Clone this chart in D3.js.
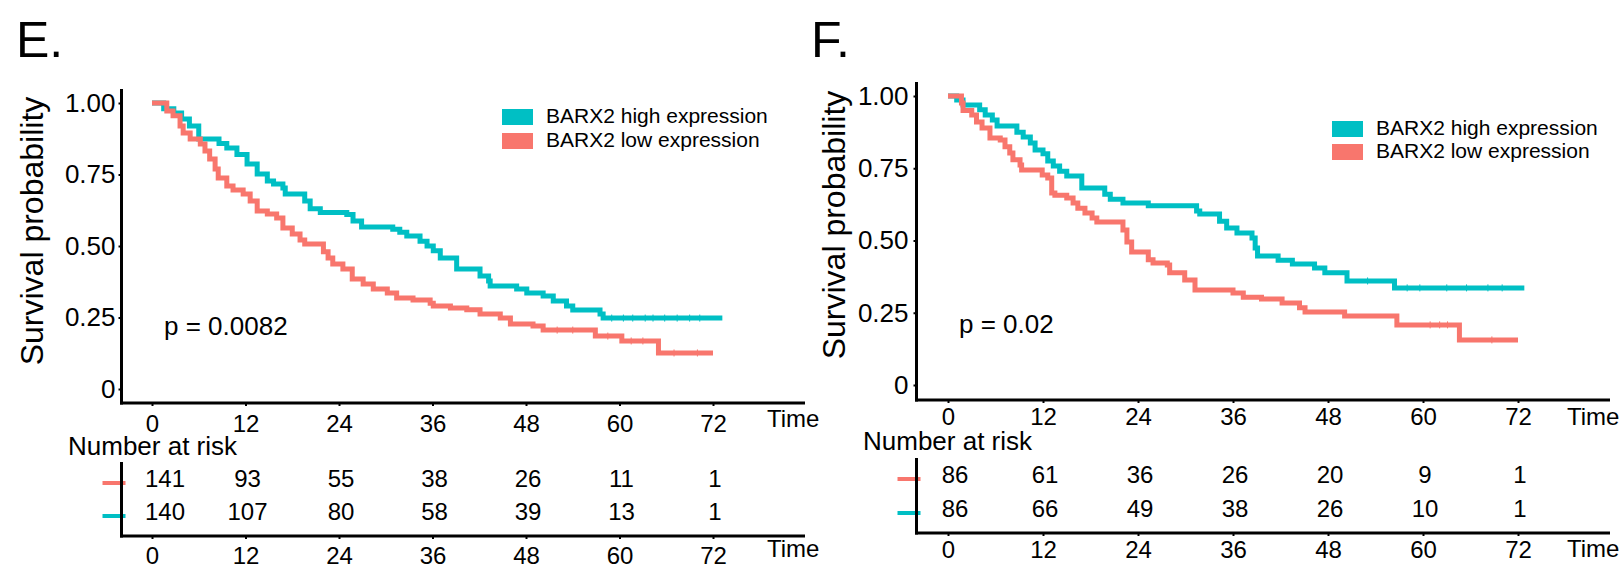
<!DOCTYPE html>
<html>
<head>
<meta charset="utf-8">
<script src="https://cdn.jsdelivr.net/npm/d3@7"></script>
<style>
  body { margin: 0; background: #fff; }
  svg { display: block; }
</style>
</head>
<body>
<svg id="chart" width="1621" height="566"></svg>
<script>
const FONT = "'Liberation Sans', Arial, Helvetica, sans-serif";

const timeTicks = [0, 12, 24, 36, 48, 60, 72];
const survTicks = [0, 0.25, 0.5, 0.75, 1];
const seriesNames = ["BARX2 high expression", "BARX2 low expression"];
const seriesColors = ["#00BFC4", "#F8766D"];
const pValues = ["p = 0.0082", "p = 0.02"];

// panel E, high expression (step times in months, survival after each step)
const eHighTime = [0, 1.5, 2.8, 3.8, 4.8, 6.0, 8.6, 9.6, 10.9, 12.2, 13.5, 14.8, 15.6, 16.8, 17.1, 19.6, 20.3, 21.6, 25.0, 25.8, 26.9, 30.9, 31.8, 32.7, 34.4, 35.3, 36.1, 37.0, 39.1, 42.1, 43.2, 43.4, 46.8, 48.1, 50.2, 51.5, 53.2, 54.0, 57.5, 57.9];
const eHighSurv = [1, 0.98, 0.965, 0.944, 0.92, 0.874, 0.858, 0.843, 0.82, 0.787, 0.752, 0.727, 0.717, 0.703, 0.682, 0.657, 0.63, 0.617, 0.61, 0.587, 0.566, 0.559, 0.548, 0.535, 0.517, 0.5, 0.483, 0.458, 0.42, 0.395, 0.378, 0.36, 0.35, 0.336, 0.325, 0.308, 0.29, 0.276, 0.262, 0.248];
const eHighEnd = 73.2;
const eHighCensor = [59, 60.5, 61.7, 63.3, 64.3, 65.8, 67.4, 69, 70.3];

// panel E, low expression
const eLowTime = [0, 1.9, 2.7, 3.6, 4.0, 4.9, 6.2, 6.8, 7.4, 8.1, 8.5, 9.6, 10.4, 11.7, 12.6, 13.5, 14.8, 16.0, 16.8, 18.0, 19.0, 19.6, 22.0, 22.6, 23.2, 24.5, 25.7, 27.1, 28.4, 30.2, 31.4, 33.5, 35.7, 36.1, 38.3, 40.4, 42.1, 44.7, 46.0, 48.9, 50.2, 56.9, 60.3, 65.0];
const eLowSurv = [1, 0.972, 0.955, 0.92, 0.895, 0.874, 0.857, 0.832, 0.804, 0.769, 0.738, 0.71, 0.696, 0.682, 0.657, 0.622, 0.612, 0.598, 0.563, 0.542, 0.521, 0.507, 0.48, 0.458, 0.437, 0.42, 0.385, 0.367, 0.35, 0.336, 0.318, 0.311, 0.3, 0.29, 0.283, 0.277, 0.262, 0.248, 0.227, 0.22, 0.206, 0.185, 0.168, 0.126];
const eLowEnd = 72;
const eLowCensor = [52, 54, 58.5, 61.5, 63, 67, 70];

// panel F, high expression
const fHighTime = [0, 1.1, 1.9, 4.0, 4.7, 5.6, 6.2, 8.7, 9.5, 10.4, 11.0, 12.0, 12.6, 13.3, 14.1, 15.0, 16.9, 19.8, 20.5, 22.1, 25.3, 31.4, 31.8, 34.3, 35.2, 36.5, 38.4, 38.8, 39.1, 41.7, 43.5, 46.3, 47.6, 50.4, 56.4];
const fHighSurv = [1, 0.986, 0.969, 0.952, 0.934, 0.917, 0.896, 0.875, 0.858, 0.837, 0.813, 0.8, 0.775, 0.758, 0.74, 0.723, 0.682, 0.66, 0.643, 0.63, 0.62, 0.602, 0.592, 0.567, 0.543, 0.526, 0.509, 0.474, 0.446, 0.432, 0.419, 0.405, 0.388, 0.36, 0.336];
const fHighEnd = 72.8;
const fHighCensor = [53, 58, 59.6, 63, 65.5, 68.2, 70];

// panel F, low expression
const fLowTime = [0, 1.7, 1.9, 3.0, 3.6, 4.3, 5.3, 6.6, 7.2, 7.8, 8.2, 9.1, 9.3, 11.9, 12.6, 13.1, 13.5, 15.0, 15.8, 16.4, 17.3, 18.2, 18.8, 22.1, 22.6, 23.2, 25.3, 25.9, 27.7, 28.0, 29.9, 31.2, 36.0, 37.3, 39.6, 42.2, 44.4, 45.1, 50.1, 56.7, 64.6];
const fLowSurv = [1, 0.976, 0.95, 0.934, 0.91, 0.889, 0.855, 0.848, 0.824, 0.803, 0.779, 0.761, 0.744, 0.727, 0.716, 0.664, 0.657, 0.647, 0.63, 0.612, 0.595, 0.578, 0.564, 0.536, 0.495, 0.46, 0.433, 0.422, 0.415, 0.388, 0.363, 0.329, 0.318, 0.304, 0.298, 0.284, 0.267, 0.253, 0.239, 0.208, 0.156];
const fLowEnd = 72;
const fLowCensor = [60.9, 62.1, 63.1, 68.7];

// numbers at risk (low row first, as in the table)
const eRiskLow = [141, 93, 55, 38, 26, 11, 1];
const eRiskHigh = [140, 107, 80, 58, 39, 13, 1];
const fRiskLow = [86, 61, 36, 26, 20, 9, 1];
const fRiskHigh = [86, 66, 49, 38, 26, 10, 1];

const svg = d3.select("#chart").attr("font-family", FONT);
svg.append("rect").attr("width", 1621).attr("height", 566).attr("fill", "#fff");

function stepAt(times, surv, t) {
  let s = surv[0];
  for (let i = 0; i < times.length; i++) {
    if (times[i] <= t) s = surv[i];
  }
  return s;
}

function drawPanel(L, D) {
  const x = d3.scaleLinear().domain([0, 72]).range([L.x0, L.x72]);
  const y = d3.scaleLinear().domain([0, 1]).range([L.y0, L.y1]);
  const g = svg.append("g");

  g.append("text").attr("x", L.letterX).attr("y", 57)
    .attr("font-size", 50).text(L.letter);

  // y title
  g.append("text")
    .attr("transform", `translate(${L.titleX},${L.titleY}) rotate(-90)`)
    .attr("text-anchor", "middle").attr("font-size", 32)
    .text("Survival probability");

  // y axis
  const gy = g.append("g").attr("transform", `translate(${L.axisX},0)`)
    .call(d3.axisLeft(y).tickValues(survTicks).tickSize(3).tickPadding(L.yPad)
      .tickFormat(d => d === 0 ? "0" : d.toFixed(2)));
  gy.select(".domain").remove();
  gy.attr("font-family", FONT).attr("font-size", 26);
  gy.selectAll("line").attr("stroke-width", 2);
  g.append("line").attr("x1", L.axisX).attr("x2", L.axisX)
    .attr("y1", L.axisTop).attr("y2", L.axisY + 1.5)
    .attr("stroke", "#000").attr("stroke-width", 3);

  // x axis
  const gx = g.append("g").attr("transform", `translate(0,${L.axisY})`)
    .call(d3.axisBottom(x).tickValues(timeTicks).tickSize(3).tickPadding(L.xPad));
  gx.select(".domain").remove();
  gx.attr("font-family", FONT).attr("font-size", 24);
  gx.selectAll("line").attr("stroke-width", 2);
  g.append("line").attr("x1", L.axisX - 1.5).attr("x2", L.axisRight)
    .attr("y1", L.axisY).attr("y2", L.axisY)
    .attr("stroke", "#000").attr("stroke-width", 3);
  g.append("text").attr("x", L.timeX).attr("y", L.timeY)
    .attr("font-size", 24).text("Time");

  // curves
  const line = d3.line().x(d => x(d[0])).y(d => y(d[1])).curve(d3.curveStepAfter);
  D.series.forEach((s, i) => {
    const pts = s.time.map((t, k) => [t, s.surv[k]]);
    pts.push([s.end, s.surv[s.surv.length - 1]]);
    g.append("path").datum(pts)
      .attr("d", line).attr("fill", "none")
      .attr("stroke", seriesColors[s.colorIdx]).attr("stroke-width", 5);
    g.selectAll(null).data(s.censor).enter().append("line")
      .attr("x1", d => x(d)).attr("x2", d => x(d))
      .attr("y1", d => y(stepAt(s.time, s.surv, d)) - 3.5)
      .attr("y2", d => y(stepAt(s.time, s.surv, d)) + 3.5)
      .attr("stroke", seriesColors[s.colorIdx]).attr("stroke-width", 1);
  });

  // p value
  g.append("text").attr("x", L.pX).attr("y", L.pY)
    .attr("font-size", 26).text(D.p);

  // legend
  seriesNames.forEach((name, i) => {
    g.append("rect").attr("x", L.legX).attr("y", L.legY + i * L.legStep)
      .attr("width", 31).attr("height", 16).attr("fill", seriesColors[i]);
    g.append("text").attr("x", L.legX + 44).attr("y", L.legY + i * L.legStep + 14)
      .attr("font-size", 21).text(name);
  });

  // number at risk table
  g.append("text").attr("x", L.nrX).attr("y", L.nrY)
    .attr("font-size", 26).text("Number at risk");
  const rows = [
    { vals: D.riskLow, color: seriesColors[1] },
    { vals: D.riskHigh, color: seriesColors[0] }
  ];
  rows.forEach((r, i) => {
    const by = L.rowY[i];
    g.append("line").attr("x1", L.axisX - 19).attr("x2", L.axisX + 4)
      .attr("y1", by - 4).attr("y2", by - 4)
      .attr("stroke", r.color).attr("stroke-width", 4);
    g.selectAll(null).data(r.vals).enter().append("text")
      .attr("x", (d, k) => x(timeTicks[k]) + (k === 0 ? L.firstShift : 2))
      .attr("y", by).attr("text-anchor", "middle")
      .attr("font-size", 24).text(d => d);
  });
  g.append("line").attr("x1", L.axisX).attr("x2", L.axisX)
    .attr("y1", L.tabTop).attr("y2", L.tabY + 1.5)
    .attr("stroke", "#000").attr("stroke-width", 3);
  const gx2 = g.append("g").attr("transform", `translate(0,${L.tabY})`)
    .call(d3.axisBottom(x).tickValues(timeTicks).tickSize(3).tickPadding(L.xPad2));
  gx2.select(".domain").remove();
  gx2.attr("font-family", FONT).attr("font-size", 24);
  gx2.selectAll("line").attr("stroke-width", 2);
  g.append("line").attr("x1", L.axisX - 1.5).attr("x2", L.axisRight)
    .attr("y1", L.tabY).attr("y2", L.tabY)
    .attr("stroke", "#000").attr("stroke-width", 3);
  g.append("text").attr("x", L.timeX).attr("y", 557)
    .attr("font-size", 24).text("Time");
}

drawPanel(
  { letter: "E.", letterX: 16, titleX: 43, titleY: 231,
    x0: 152, x72: 713, y0: 389, y1: 103,
    axisX: 121.5, axisTop: 89, axisY: 403, axisRight: 805, yPad: 3, xPad: 9,
    timeX: 767, timeY: 427, pX: 164, pY: 335,
    legX: 502, legY: 109, legStep: 24,
    nrX: 68, nrY: 455, rowY: [487, 520], firstShift: 13,
    tabTop: 462, tabY: 536, xPad2: 8 },
  { series: [
      { time: eHighTime, surv: eHighSurv, end: eHighEnd, censor: eHighCensor, colorIdx: 0 },
      { time: eLowTime, surv: eLowSurv, end: eLowEnd, censor: eLowCensor, colorIdx: 1 }
    ],
    p: pValues[0], riskLow: eRiskLow, riskHigh: eRiskHigh }
);

drawPanel(
  { letter: "F.", letterX: 811, titleX: 845, titleY: 225,
    x0: 948, x72: 1518, y0: 385, y1: 96,
    axisX: 916.5, axisTop: 82, axisY: 400, axisRight: 1610, yPad: 5, xPad: 5,
    timeX: 1567, timeY: 425, pX: 959, pY: 333,
    legX: 1332, legY: 121, legStep: 23,
    nrX: 863, nrY: 450, rowY: [483, 517], firstShift: 7,
    tabTop: 458, tabY: 533, xPad2: 5 },
  { series: [
      { time: fHighTime, surv: fHighSurv, end: fHighEnd, censor: fHighCensor, colorIdx: 0 },
      { time: fLowTime, surv: fLowSurv, end: fLowEnd, censor: fLowCensor, colorIdx: 1 }
    ],
    p: pValues[1], riskLow: fRiskLow, riskHigh: fRiskHigh }
);
</script>
</body>
</html>
